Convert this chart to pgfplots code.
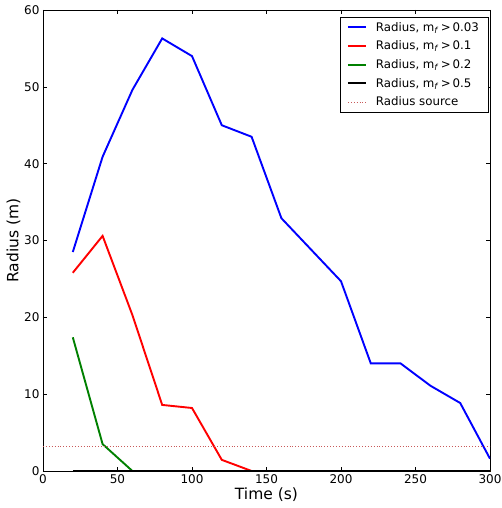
\documentclass[border=0pt]{standalone}
\usepackage{fontspec}
\setmainfont{DejaVu Sans}
\usepackage{pgfplots}
\pgfplotsset{compat=1.18}
\definecolor{srcred}{RGB}{200,90,90}
\definecolor{mgreen}{RGB}{0,128,0}
\begin{document}
\begin{tikzpicture}
\begin{axis}[
  scale only axis,
  width=447pt, height=461pt,
  xmin=0, xmax=300, ymin=0, ymax=60,
  xtick={0,50,100,150,200,250,300},
  ytick={0,10,20,30,40,50,60},
  tick align=inside,
  xtick pos=both, ytick pos=both,
  major tick length=4pt,
  tick style={black, line width=0.6pt},
  axis line style={black, line width=0.6pt},
  /pgf/number format/assume math mode=true,
  ticklabel style={font=\fontsize{12}{14}\selectfont},
  xlabel={Time (s)}, ylabel={Radius (m)},
  label style={font=\fontsize{15.5}{18}\selectfont},
  xlabel style={yshift=3pt},
  ylabel style={yshift=-3pt},
  legend style={at={(rel axis cs:0.996,0.985)}, anchor=north east,
    font=\fontsize{11.8}{13.5}\selectfont,
    row sep=4.2pt, column sep=7pt, inner xsep=7pt, inner ysep=3pt, cells={anchor=west}},
  legend cell align=left,
  legend image code/.code={\draw[#1] (0pt,0pt) -- (18pt,0pt);},
]
\addplot[blue, line width=1.9pt] coordinates {(20,28.5) (40,40.9) (60,49.6) (80,56.3) (100,54.0) (120,45.0) (140,43.5) (160,32.9) (180,28.8) (200,24.7) (220,14.0) (240,14.0) (260,11.1) (280,8.85) (300,1.6)};
\addlegendentry{Radius, m\textsubscript{\textit{f}}\,>\,0.03}
\addplot[red, line width=1.9pt] coordinates {(20,25.8) (40,30.6) (60,20.3) (80,8.6) (100,8.2) (120,1.45) (140,0) (160,0) (180,0) (200,0) (220,0) (240,0) (260,0) (280,0) (300,0)};
\addlegendentry{Radius, m\textsubscript{\textit{f}}\,>\,0.1}
\addplot[mgreen, line width=1.9pt] coordinates {(20,17.4) (40,3.5) (60,0) (80,0) (100,0) (120,0) (140,0) (160,0) (180,0) (200,0) (220,0) (240,0) (260,0) (280,0) (300,0)};
\addlegendentry{Radius, m\textsubscript{\textit{f}}\,>\,0.2}
\addplot[black, line width=1.9pt] coordinates {(20,0) (40,0) (60,0) (80,0) (100,0) (120,0) (140,0) (160,0) (180,0) (200,0) (220,0) (240,0) (260,0) (280,0) (300,0)};
\addlegendentry{Radius, m\textsubscript{\textit{f}}\,>\,0.5}
\addplot[srcred, dotted, line width=0.9pt] coordinates {(0,3.25) (300,3.25)};
\addlegendentry{Radius source}
\end{axis}
\pgfresetboundingbox
\path (current axis.south west) ++(-43pt,-37pt) coordinate (bl);
\path (current axis.north east) ++(11pt,10pt) coordinate (tr);
\useasboundingbox (bl) rectangle (tr);
\end{tikzpicture}
\end{document}
